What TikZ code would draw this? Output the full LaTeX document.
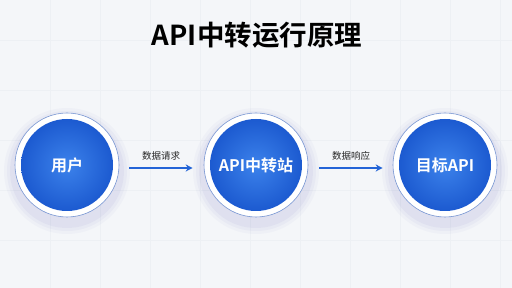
\documentclass[tikz,border=0pt]{standalone}
\usepackage{fontspec}
\setmainfont{Noto Sans CJK SC}[BoldFont={Noto Sans CJK SC Bold}]
\usetikzlibrary{arrows.meta}
\definecolor{bg}{RGB}{244,246,249}
\definecolor{gridc}{RGB}{237,240,244}
\definecolor{blueA}{RGB}{60,130,235}
\definecolor{blueB}{RGB}{28,90,208}
\definecolor{ringc}{RGB}{120,150,210}
\definecolor{arrowc}{RGB}{35,100,215}
\tikzset{
  disc/.style={circle, minimum size=92pt, inner sep=0pt, inner color=blueA, outer color=blueB,
     text=white, font=\bfseries\fontsize{16}{18}\selectfont},
  ringbox/.style={circle, minimum size=104pt, inner sep=0pt, fill=white, draw=ringc, line width=0.6pt},
  flow/.style={draw=arrowc, line width=1.2pt, -{Stealth[length=7pt,width=7pt]}},
  lbl/.style={font=\fontsize{9.5}{11}\selectfont, text=black!85},
}
\begin{document}
\begin{tikzpicture}[x=1pt,y=-1pt]
\fill[bg] (0,0) rectangle (512,288);
\useasboundingbox (0,0) rectangle (512,288);
\foreach \x in {50,100,...,500} \draw[gridc,line width=0.4pt] (\x,0) -- (\x,288);
\foreach \y in {40,90,...,280} \draw[gridc,line width=0.4pt] (0,\y) -- (512,\y);
\node[font=\bfseries\fontsize{27.5}{30}\selectfont] (title) at (257,35) {API中转运行原理};
\foreach \cx/\nm in {67/a,256/b,445/c}{
  \foreach \r/\o in {63/0.03,60/0.04,57/0.05}
    \fill[blue!40!gray, opacity=\o] (\cx,171) circle (\r pt);
}
\node[ringbox] (ra) at (67,165) {};
\node[ringbox] (rb) at (256,165) {};
\node[ringbox] (rc) at (445,165) {};
\node[disc] (a) at (67,165) {用户};
\node[disc] (b) at (256,165) {API中转站};
\node[disc] (c) at (445,165) {目标API};
\draw[flow] ([xshift=10pt,yshift=-3pt]ra.east) -- node[lbl, above=4pt] (l1) {数据请求} ([xshift=-11pt,yshift=-3pt]rb.west);
\draw[flow] ([xshift=11pt,yshift=-3pt]rb.east) -- node[lbl, above=4pt] (l2) {数据响应} ([xshift=-10pt,yshift=-3pt]rc.west);
\end{tikzpicture}
\end{document}
